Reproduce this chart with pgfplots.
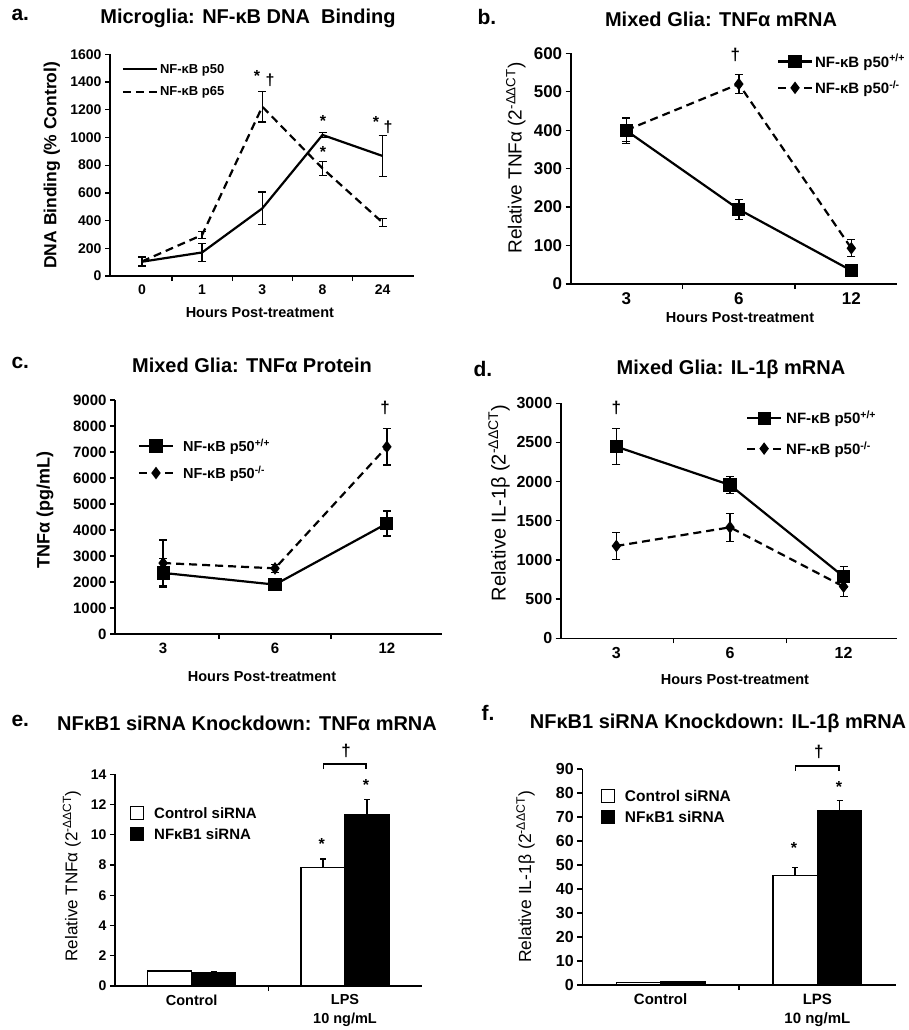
\documentclass[border=0pt]{standalone}
\usepackage{fontspec}
\setmainfont{Liberation Sans}
\usepackage{pgfplots}
\pgfplotsset{compat=1.18}

\newcommand{\fs}[1]{\fontsize{#1}{#1}\selectfont}

\pgfplotsset{
  panel/.style={
    scale only axis, anchor=south west, clip=false,
    axis lines=left, axis line style={-, line width=1.6pt},
    tick align=outside, major tick length=5pt,
    tick style={line width=1.3pt, black},
    ymin=0,
    /pgf/number format/assume math mode=true,
    /pgf/number format/1000 sep={},
    xtick style={draw=none},
    extra x tick labels={},
    extra x tick style={xtick style={draw=black}},
    legend cell align=left,
    legend style={draw=none, fill=none, inner sep=0pt, outer sep=0pt,
      nodes={inner sep=1pt}},
  },
  ylab/.style 2 args={ylabel style={at={(axis description cs:#1,#2)}, anchor=center}},
  xlab/.style 2 args={xlabel style={at={(axis description cs:#1,#2)}, anchor=center, font=\bfseries\fs{14.5}}},
  sline/.style={black, line width=2.2pt},
  dline/.style={black, line width=2.2pt, dash pattern=on 8pt off 5pt},
  ebar/.style={error bars/y dir=both, error bars/y explicit,
    error bars/error bar style={line width=1.4pt, solid},
    error bars/error mark options={rotate=90, line width=1.4pt, mark size=4pt, solid}},
  bebar/.style={error bars/y dir=plus, error bars/y explicit,
    error bars/error bar style={line width=1.4pt},
    error bars/error mark options={rotate=90, line width=1.4pt, mark size=3pt}},
  linelegend/.style={legend image code/.code={
    \draw[##1] (0pt,0pt) -- (34pt,0pt);
    \draw[##1] plot coordinates {(17pt,0pt)};}},
  barlegend/.style={legend image code/.code={
    \draw[##1, line width=1.2pt] (0pt,-6pt) rectangle (13pt,7pt);}},
  colgap/.style={legend style={/tikz/every odd column/.append style={column sep=#1}}},
}

\begin{document}
\begin{tikzpicture}
\useasboundingbox (0pt,0pt) rectangle (908pt,-1030pt);

% ---------- titles and panel letters
\node[font=\bfseries\fs{21}, anchor=west] at (8pt,-15pt) {a.};
\node[font=\bfseries\fs{20}] at (248pt,-18pt) {Microglia: NF-κB DNA\ \ Binding};
\node[font=\bfseries\fs{21}, anchor=west] at (474pt,-17pt) {b.};
\node[font=\bfseries\fs{20}] at (721pt,-19pt) {Mixed Glia: TNFα mRNA};
\node[font=\bfseries\fs{21}, anchor=west] at (8pt,-363pt) {c.};
\node[font=\bfseries\fs{20}] at (252pt,-365pt) {Mixed Glia: TNFα Protein};
\node[font=\bfseries\fs{21}, anchor=west] at (470pt,-369pt) {d.};
\node[font=\bfseries\fs{20}] at (731pt,-369pt) {Mixed Glia: IL-1β mRNA};
\node[font=\bfseries\fs{21}, anchor=west] at (8pt,-721pt) {e.};
\node[font=\bfseries\fs{20}] at (247pt,-723pt) {NFκB1 siRNA Knockdown: TNFα mRNA};
\node[font=\bfseries\fs{21}, anchor=west] at (478pt,-713pt) {f.};
\node[font=\bfseries\fs{20}] at (718pt,-723pt) {NFκB1 siRNA Knockdown: IL-1β mRNA};

% ---------- a
\begin{axis}[panel, at={(110pt,-276pt)}, width=304pt, height=221.7pt,
  xmin=-0.53, xmax=4.52, ymax=1600, ytick={0,200,...,1600},
  xtick={0,1,2,3,4}, xticklabels={0,1,3,8,24}, extra x ticks={0.5,1.5,2.5,3.5},
  tick label style={font=\bfseries\fs{14}},
  ylabel={DNA Binding (\% Control)}, ylabel style={font=\bfseries\fs{17.5}}, ylab={-0.191}{0.5},
  xlabel={Hours Post-treatment}, xlab={0.493}{-0.167},
  legend style={at={(axis description cs:0.039,0.961)}, anchor=north west,
    font=\bfseries\fs{13}, row sep=10pt},
  linelegend, colgap=1pt]
\addplot[sline, ebar] coordinates {
  (0,103) +- (0,35) (1,170) +- (0,65) (2,488) +- (0,118) (3,1018) +- (0,17) (4,866) +- (0,150)};
\addlegendentry{NF-κB p50}
\addplot[dline, ebar] coordinates {
  (0,105) +- (0,30) (1,296) +- (0,25) (2,1222) +- (0,110) (3,777) +- (0,50) (4,385) +- (0,28)};
\addlegendentry{NF-κB p65}
\node[font=\bfseries\fs{16}] at (axis cs:1.91,1443) {*};
\node[font=\bfseries\fs{16}] at (axis cs:2.13,1415) {†};
\node[font=\bfseries\fs{16}] at (axis cs:3.01,1119) {*};
\node[font=\bfseries\fs{16}] at (axis cs:3.01,895) {*};
\node[font=\bfseries\fs{16}] at (axis cs:3.89,1111) {*};
\node[font=\bfseries\fs{16}] at (axis cs:4.09,1075) {†};
\end{axis}

% ---------- b
\begin{axis}[panel, at={(570.7pt,-284pt)}, width=326.3pt, height=230.7pt,
  xmin=-0.494, xmax=2.406, ymax=600, ytick={0,100,...,600},
  xtick={0,1,2}, xticklabels={3,6,12}, extra x ticks={0.5,1.5},
  tick label style={font=\bfseries\fs{17}},
  ylabel={Relative TNFα (2\textsuperscript{-ΔΔCT})}, ylabel style={font=\fs{19}}, ylab={-0.168}{0.546},
  xlabel={Hours Post-treatment}, xlab={0.519}{-0.147},
  legend style={at={(axis description cs:0.632,1.0)}, anchor=north west,
    font=\bfseries\fs{15}, row sep=10pt},
  linelegend, colgap=1pt]
\addplot[sline, ebar, mark=square*, mark size=5.5pt, mark options={solid}] coordinates {
  (0,399) +- (0,33) (1,194) +- (0,26) (2,35) +- (0,5)};
\addlegendentry{NF-κB p50\textsuperscript{+/+}}
\addplot[dline, ebar, mark=diamond*, mark size=4.5pt, mark options={solid}] coordinates {
  (0,400) +- (0,30) (1,520) +- (0,25) (2,93) +- (0,22)};
\addlegendentry{NF-κB p50\textsuperscript{-/-}}
\node[font=\bfseries\fs{17}] at (axis cs:0.97,596) {†};
\end{axis}

% ---------- c
\begin{axis}[panel, at={(115pt,-634pt)}, width=326.7pt, height=234pt,
  xmin=-0.43, xmax=2.49, ymax=9000, ytick={0,1000,...,9000},
  xtick={0,1,2}, xticklabels={3,6,12}, extra x ticks={0.5,1.5},
  tick label style={font=\bfseries\fs{15}},
  ylabel={TNFα (pg/mL)}, ylabel style={font=\bfseries\fs{18}}, ylab={-0.214}{0.53},
  xlabel={Hours Post-treatment}, xlab={0.45}{-0.18},
  legend style={at={(axis description cs:0.07,0.838)}, anchor=north west,
    font=\bfseries\fs{14.5}, row sep=11pt},
  linelegend, colgap=8pt]
\addplot[sline, ebar, mark=square*, mark size=5.5pt, mark options={solid}] coordinates {
  (0,2350) +- (0,550) (1,1900) +- (0,120) (2,4250) +- (0,480)};
\addlegendentry{NF-κB p50\textsuperscript{+/+}}
\addplot[dline, ebar, mark=diamond*, mark size=4.5pt, mark options={solid}] coordinates {
  (0,2730) +- (0,880) (1,2525) +- (0,150) (2,7200) +- (0,700)};
\addlegendentry{NF-κB p50\textsuperscript{-/-}}
\node[font=\bfseries\fs{17}] at (axis cs:1.985,8692) {†};
\end{axis}

% ---------- d
\begin{axis}[panel, at={(560.7pt,-638.3pt)}, width=336.3pt, height=235pt,
  xmin=-0.49, xmax=2.47, ymax=3000, ytick={0,500,...,3000},
  xtick={0,1,2}, xticklabels={3,6,12}, extra x ticks={0.5,1.5},
  tick label style={font=\bfseries\fs{16}},
  ylabel={Relative IL-1β (2\textsuperscript{-ΔΔCT})}, ylabel style={font=\fs{20}}, ylab={-0.183}{0.576},
  xlabel={Hours Post-treatment}, xlab={0.518}{-0.177},
  legend style={at={(axis description cs:0.551,0.971)}, anchor=north west,
    font=\bfseries\fs{15}, row sep=14pt},
  linelegend, colgap=3pt]
\addplot[sline, ebar, mark=square*, mark size=5.5pt, mark options={solid}] coordinates {
  (0,2447) +- (0,230) (1,1957) +- (0,105) (2,787) +- (0,130)};
\addlegendentry{NF-κB p50\textsuperscript{+/+}}
\addplot[dline, ebar, mark=diamond*, mark size=4.5pt, mark options={solid}] coordinates {
  (0,1179) +- (0,170) (1,1417) +- (0,180) (2,660) +- (0,130)};
\addlegendentry{NF-κB p50\textsuperscript{-/-}}
\node[font=\bfseries\fs{17}] at (axis cs:0,2940) {†};
\end{axis}

% ---------- e
\begin{axis}[panel, at={(115pt,-986pt)}, width=306.7pt, height=211.7pt,
  xmin=-0.5, xmax=1.5, ymax=14, ytick={0,2,...,14},
  xtick={0,1}, xticklabels={Control,{LPS\\10 ng/mL}}, extra x ticks={0.5},
  ybar=0pt, bar width=0.287,
  tick label style={font=\bfseries\fs{14}},
  xticklabel style={align=center, font=\bfseries\fontsize{14.5}{19}\selectfont},
  ylabel={Relative TNFα (2\textsuperscript{-ΔΔCT})}, ylabel style={font=\fs{17}}, ylab={-0.141}{0.52},
  legend style={at={(axis description cs:0.049,0.85)}, anchor=north west,
    font=\bfseries\fs{15}, row sep=6pt},
  colgap=9pt]
\addplot[fill=white, draw=black, line width=1.5pt, barlegend, bebar] coordinates {
  (0,1.0) +- (0,0.03) (1,7.85) +- (0,0.55)};
\addlegendentry{Control siRNA}
\addplot[fill=black, draw=black, line width=1.5pt, barlegend, bebar] coordinates {
  (0,0.9) +- (0,0.05) (1,11.35) +- (0,1.0)};
\addlegendentry{NFκB1 siRNA}
\node[font=\bfseries\fs{16}] at (axis cs:0.848,9.39) {*};
\node[font=\bfseries\fs{16}] at (axis cs:1.137,13.29) {*};
\draw[line width=1.3pt] (axis cs:0.858,14.35) -- (axis cs:0.858,14.68) -- (axis cs:1.137,14.68) -- (axis cs:1.137,14.35);
\node[font=\bfseries\fs{17}] at (axis cs:1.007,15.56) {†};
\end{axis}

% ---------- f
\begin{axis}[panel, at={(582.3pt,-985pt)}, width=313.4pt, height=216pt,
  xmin=-0.5, xmax=1.5, ymax=90, ytick={0,10,...,90},
  xtick={0,1}, xticklabels={Control,{LPS\\10 ng/mL}}, extra x ticks={0.5},
  ybar=0pt, bar width=0.283,
  tick label style={font=\bfseries\fs{16}},
  xticklabel style={align=center, font=\bfseries\fontsize{15}{19}\selectfont},
  ylabel={Relative IL-1β (2\textsuperscript{-ΔΔCT})}, ylabel style={font=\fs{17.5}}, ylab={-0.181}{0.5},
  legend style={at={(axis description cs:0.059,0.907)}, anchor=north west,
    font=\bfseries\fs{15.5}, row sep=6pt},
  colgap=9pt]
\addplot[fill=white, draw=black, line width=1.5pt, barlegend, bebar] coordinates {
  (0,1.0) +- (0,0.1) (1,45.6) +- (0,3.4)};
\addlegendentry{Control siRNA}
\addplot[fill=black, draw=black, line width=1.5pt, barlegend, bebar] coordinates {
  (0,1.2) +- (0,0.1) (1,72.5) +- (0,4.5)};
\addlegendentry{NFκB1 siRNA}
\node[font=\bfseries\fs{16}] at (axis cs:0.851,57.2) {*};
\node[font=\bfseries\fs{16}] at (axis cs:1.138,82.6) {*};
\draw[line width=1.3pt] (axis cs:0.862,89.3) -- (axis cs:0.862,91.25) -- (axis cs:1.138,91.25) -- (axis cs:1.138,89.3);
\node[font=\bfseries\fs{17}] at (axis cs:1.01,97.2) {†};
\end{axis}

\end{tikzpicture}
\end{document}
